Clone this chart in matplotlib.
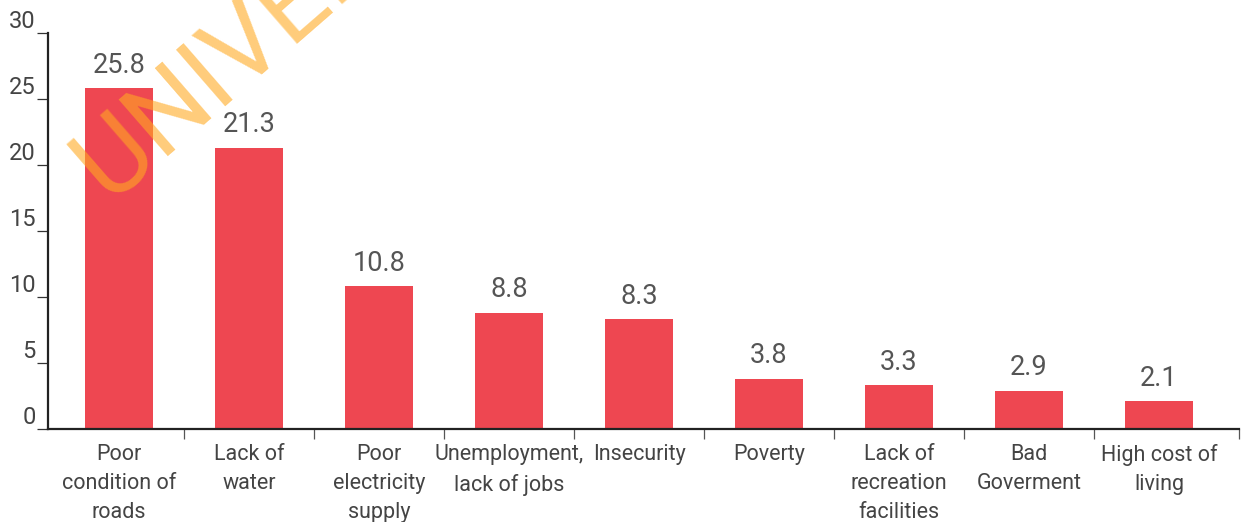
import matplotlib
matplotlib.use("Agg")
import matplotlib.pyplot as plt
import numpy as np

# ── Datos ──────────────────────────────────────────────────────────────────────
categories = [
    "Poor\ncondition of\nroads",
    "Lack of\nwater",
    "Poor\nelectricity\nsupply",
    "Unemployment,\nlack of jobs",
    "Insecurity",
    "Poverty",
    "Lack of\nrecreation\nfacilities",
    "Bad\nGoverment",
    "High cost of\nliving",
]
values = [25.8, 21.3, 10.8, 8.8, 8.3, 3.8, 3.3, 2.9, 2.1]
value_labels = ["25.8", "21.3", "10.8", "8.8", "8.3", "3.8", "3.3", "2.9", "2.1"]
yticks = [0, 5, 10, 15, 20, 25, 30]

BAR_COLOR = "#ee4751"
TEXT_COLOR = "#444444"

plt.rcParams["font.family"] = ["Roboto", "DejaVu Sans"]

fig = plt.figure(figsize=(12.47, 5.22), dpi=100)
ax = fig.add_axes([48 / 1247, 93 / 522, (1239 - 48) / 1247, (429 - 33) / 522])

x = np.arange(len(values))
ax.bar(x, values, width=0.52, color=BAR_COLOR, zorder=2)

for xi, v, lab in zip(x, values, value_labels):
    ax.annotate(lab, (xi, v), xytext=(0, 7), textcoords="offset points",
                ha="center", va="bottom", fontsize=19.5, color="#555555")

# Ejes
ax.set_ylim(0, 30)
ax.set_xlim(-0.546, 8.615)
ax.spines["top"].set_visible(False)
ax.spines["right"].set_visible(False)
ax.spines["left"].set_color("#222222")
ax.spines["bottom"].set_color("#222222")
ax.spines["left"].set_linewidth(1.6)
ax.spines["bottom"].set_linewidth(1.6)

ax.set_yticks(yticks)
ax.set_yticklabels([str(t) for t in yticks])
ax.tick_params(axis="y", length=8, width=0.9, color="#333333", pad=1,
               labelsize=17, labelcolor=TEXT_COLOR)
for lab in ax.get_yticklabels():
    lab.set_verticalalignment("bottom")

ax.set_xticks(x)
ax.set_xticklabels(categories, linespacing=1.5)
ax.tick_params(axis="x", which="major", length=0, pad=11,
               labelsize=15.5, labelcolor=TEXT_COLOR)
ax.set_xticks(list(x[:-1] + 0.5) + [8.615], minor=True)
ax.tick_params(axis="x", which="minor", length=7.5, width=0.9, color="#555555")

# Marca de agua (cortada por el borde superior, como en el original)
fig.text(90 / 1247, 1 - 180 / 522, "UNIVERSITY", rotation=41,
         rotation_mode="anchor", ha="left", va="center", fontsize=76,
         color="#ffaa22", alpha=0.6, zorder=5)

fig.savefig("out.png", dpi=100)
